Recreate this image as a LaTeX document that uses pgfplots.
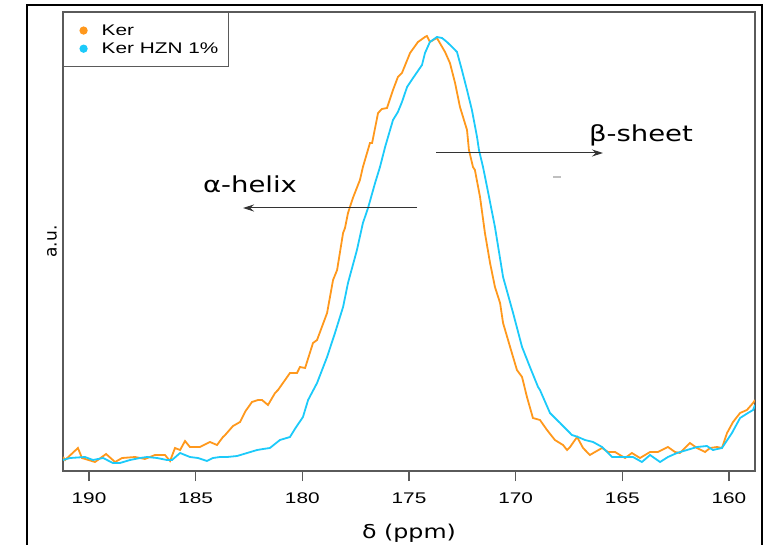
\documentclass[border=0pt]{standalone}
\usepackage{fontspec}
\setmainfont{Liberation Sans}
\newfontfamily\dejavu{DejaVu Sans}
\usepackage{graphicx}
\usepackage{pgfplots}
\pgfplotsset{compat=1.18}
\usetikzlibrary{arrows.meta}

\definecolor{kerorange}{RGB}{255,152,28}
\definecolor{kerblue}{RGB}{28,202,250}
\definecolor{boxgray}{RGB}{90,90,90}

% Ker
\pgfplotstableread{
ppm y
191.22 14
191.12 11
190.52 23
190.33 13
189.72 9
189.20 17
188.78 9
188.45 13
187.84 14
187.38 12
186.91 16
186.44 16
186.20 10
185.97 23
185.73 21
185.50 30
185.27 24
184.80 24
184.33 29
184.00 26
183.72 34
183.62 36
183.25 45
182.92 49
182.66 60
182.36 69
182.08 71
181.89 71
181.61 66
181.28 78
181.14 81
180.81 91
180.58 98
180.25 98
180.11 104
179.87 103
179.50 128
179.31 131
178.84 158
178.56 191
178.37 201
178.09 238
178.00 243
177.86 258
177.63 273
177.30 291
177.16 304
176.83 328
176.73 328
176.45 358
176.27 362
176.03 363
175.75 381
175.52 394
175.33 398
174.95 418
174.58 429
174.25 434
174.16 435
174.02 429
173.78 432
173.69 433
173.31 419
173.08 408
172.84 388
172.61 364
172.28 341
172.19 321
172.00 304
171.91 301
171.67 274
171.44 238
171.20 208
170.97 184
170.73 168
170.59 148
170.26 124
169.94 101
169.70 94
169.47 74
169.19 53
168.86 51
168.53 41
168.16 31
167.78 26
167.59 21
167.45 24
167.12 34
166.84 23
166.52 16
166.28 19
165.95 23
165.67 19
165.34 19
165.11 16
164.87 13
164.55 18
164.17 13
163.70 19
163.33 19
162.86 24
162.53 19
162.30 18
161.83 28
161.50 23
161.12 19
160.89 23
160.56 24
160.33 23
160.09 38
159.81 49
159.48 58
159.16 61
158.87 68
158.78 71
}\ker

% Ker HZN 1%
\pgfplotstableread{
ppm y
191.22 11
190.89 13
190.19 14
189.81 11
189.34 13
188.88 8
188.55 8
188.08 11
187.61 13
187.28 14
186.81 13
186.34 11
186.11 11
185.73 18
185.27 14
184.89 13
184.47 10
184.19 13
183.86 14
183.53 14
183.06 15
182.59 18
182.12 21
181.84 22
181.52 23
181.05 31
180.58 34
180.32 43
179.97 54
179.73 71
179.31 88
178.84 114
178.47 138
178.09 164
177.86 188
177.44 221
177.16 248
176.92 263
176.59 288
176.36 304
176.12 324
175.75 351
175.52 359
175.33 369
175.09 384
174.81 393
174.39 406
174.25 418
174.02 429
173.69 434
173.45 433
173.22 429
172.98 424
172.75 419
172.52 401
172.28 381
172.05 361
171.81 334
171.72 321
171.53 304
171.34 284
170.97 244
170.59 194
170.12 158
169.70 124
169.33 104
168.95 84
168.86 81
168.39 58
167.92 48
167.36 36
167.08 34
166.75 31
166.37 29
165.95 24
165.48 14
164.97 14
164.50 14
164.08 9
163.70 16
163.23 9
162.86 14
162.44 18
161.97 21
161.50 24
161.03 25
160.75 21
160.33 23
159.86 38
159.48 53
159.11 58
158.87 61
158.78 66
}\kerhzn

\newcommand{\sx}[1]{\scalebox{1.25}[1]{#1}}
\newcommand{\sxl}[1]{\scalebox{1.35}[1]{#1}}

\begin{document}
\begin{tikzpicture}[x=1pt,y=1pt]
\useasboundingbox (0,0) rectangle (771,544);
\begin{axis}[
  at={(63pt,73pt)}, anchor=south west,
  scale only axis, width=692pt, height=459pt,
  x dir=reverse,
  xmin=158.78, xmax=191.22,
  ymin=0, ymax=459,
  xtick={160,165,...,190},
  xtick pos=bottom,
  ytick=\empty,
  tick align=outside,
  major tick length=10pt,
  every tick/.style={boxgray, line width=1.3pt},
  axis line style={boxgray, line width=1.3pt},
  xticklabel={\sxl{\pgfmathprintnumber{\tick}}},
  xticklabel style={font=\fontsize{15.4}{18}\selectfont, yshift=-8pt},
  /pgf/number format/assume math mode=true,
  xlabel={\dejavu\fontsize{19}{22}\selectfont\sx{δ (ppm)}},
  ylabel={\dejavu\fontsize{17}{20}\selectfont a.u.},
  every axis x label/.style={at={(axis description cs:0.5,-0.135)}, anchor=center},
  every axis y label/.style={at={(axis description cs:-0.016,0.5)}, rotate=90, anchor=center},
  legend style={at={(0,1)}, anchor=north west, draw=boxgray, line width=1pt,
    font=\fontsize{15.4}{18}\selectfont, inner xsep=8pt, inner ysep=10pt,
    row sep=2pt, /tikz/every odd column/.append style={column sep=12pt}},
  legend cell align=left,
]
\addplot[kerorange, line width=1.8pt, forget plot] table[x=ppm, y=y] {\ker};
\addplot[kerblue, line width=1.8pt, forget plot] table[x=ppm, y=y] {\kerhzn};
\addlegendimage{legend image code/.code={\path (0pt,0pt); \fill[kerorange] (11.6pt,0pt) circle (3.6pt);}}
\addlegendentry{\sxl{Ker}}
\addlegendimage{legend image code/.code={\path (0pt,0pt); \fill[kerblue] (11.6pt,0pt) circle (3.6pt);}}
\addlegendentry{\sxl{Ker HZN 1\%}}
\end{axis}
% outer frame
\draw[black, line width=2.4pt] (27,-10) -- (27,539) -- (762,539) -- (762,-10);
% annotations
\draw[black!80, line width=1pt, -{Stealth[length=11pt,width=7pt]}] (417,336) -- (243,336);
\draw[black!80, line width=1pt, -{Stealth[length=11pt,width=7pt]}] (436,391) -- (603,391);
\node[anchor=base, inner sep=0pt] at (250,351) {\dejavu\fontsize{22}{26}\selectfont\sx{α-helix}};
\node[anchor=base, inner sep=0pt] at (641,402) {\dejavu\fontsize{22}{26}\selectfont\sx{β-sheet}};
\draw[gray!50, line width=1.2pt] (553,367) -- (561,367);
\end{tikzpicture}
\end{document}
